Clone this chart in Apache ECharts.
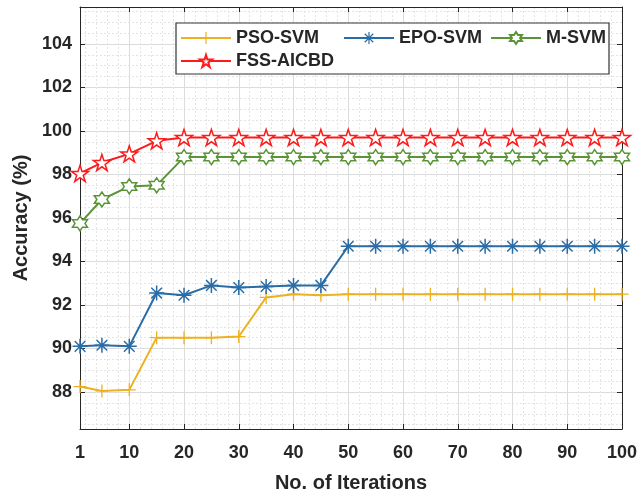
<!DOCTYPE html>
<html>
<head>
<meta charset="utf-8">
<script src="https://cdn.jsdelivr.net/npm/echarts@6/dist/echarts.min.js"></script>
<style>
  html, body { margin: 0; padding: 0; background: #fff; }
  #main { width: 638px; height: 494px; }
</style>
</head>
<body>
<div id="main"></div>
<script>
// iterations on the x axis
const iters = [1, 5, 10, 15, 20, 25, 30, 35, 40, 45, 50, 55, 60, 65, 70, 75, 80, 85, 90, 95, 100];

// accuracy (%) per method
const psoSvm = [88.25, 88.05, 88.1, 90.5, 90.5, 90.5, 90.55, 92.35, 92.5, 92.45, 92.5, 92.5, 92.5, 92.5, 92.5, 92.5, 92.5, 92.5, 92.5, 92.5, 92.5];
const epoSvm = [90.1, 90.15, 90.1, 92.55, 92.45, 92.9, 92.8, 92.85, 92.9, 92.9, 94.7, 94.7, 94.7, 94.7, 94.7, 94.7, 94.7, 94.7, 94.7, 94.7, 94.7];
const mSvm = [95.75, 96.85, 97.45, 97.5, 98.8, 98.8, 98.8, 98.8, 98.8, 98.8, 98.8, 98.8, 98.8, 98.8, 98.8, 98.8, 98.8, 98.8, 98.8, 98.8, 98.8];
const fssAicbd = [98.05, 98.55, 98.95, 99.55, 99.7, 99.7, 99.7, 99.7, 99.7, 99.7, 99.7, 99.7, 99.7, 99.7, 99.7, 99.7, 99.7, 99.7, 99.7, 99.7, 99.7];

// tick labels
const xTicks = [1, 10, 20, 30, 40, 50, 60, 70, 80, 90, 100];
const yTicks = [88, 90, 92, 94, 96, 98, 100, 102, 104];
const xMinor = [2, 4, 6, 8, 12, 14, 16, 18, 22, 24, 26, 28, 32, 34, 36, 38, 42, 44, 46, 48, 52, 54, 56, 58,
  62, 64, 66, 68, 72, 74, 76, 78, 82, 84, 86, 88, 92, 94, 96, 98];
const yMinor = [86.5, 87, 87.5, 88.5, 89, 89.5, 90.5, 91, 91.5, 92.5, 93, 93.5, 94.5, 95, 95.5, 96.5, 97, 97.5,
  98.5, 99, 99.5, 100.5, 101, 101.5, 102.5, 103, 103.5, 104.5, 105, 105.5];

const names = ['PSO-SVM', 'EPO-SVM', 'M-SVM', 'FSS-AICBD'];
const colors = ['#EDB120', '#2A6CA6', '#5A9436', '#FF1A1A'];

const plusPath = 'path://M45 0H55V45H100V55H55V100H45V55H0V45H45Z';
const asteriskPath = 'path://M45 0H55V100H45Z M0 45H100V55H0Z M18.1 11.1L88.9 81.9L81.9 88.9L11.1 18.1Z M88.9 18.1L18.1 88.9L11.1 81.9L81.9 11.1Z';
const hexPath = 'path://M50 0L64.4 25L93.3 25L78.9 50L93.3 75L64.4 75L50 100L35.6 75L6.7 75L21.1 50L6.7 25L35.6 25Z';
const pentaPath = 'path://M50 0L61.2 34.5L97.6 34.5L68.2 55.9L79.4 90.5L50 69.1L20.6 90.5L31.8 55.9L2.4 34.5L38.8 34.5Z';

const YMIN = 86.3, YMAX = 105.7;
const axisColor = '#262626';
const labelFont = { fontFamily: 'Liberation Sans', fontWeight: 'bold', color: axisColor };

const toPairs = (vals) => iters.map((x, i) => [x, vals[i]]);

const chart = echarts.init(document.getElementById('main'));

const legendPos = [
  { left: 180, top: 29 },
  { left: 343, top: 29 },
  { left: 490, top: 29 },
  { left: 180, top: 52 }
];

const option = {
  animation: false,
  backgroundColor: '#fff',
  grid: { left: 80, right: 16, top: 7, bottom: 65, outerBoundsMode: 'none', containLabel: false },
  graphic: [{
    type: 'rect',
    z: 90,
    shape: { x: 176, y: 23, width: 433, height: 51 },
    style: { fill: '#fff', stroke: '#333', lineWidth: 1.2 }
  }],
  legend: names.map((n, i) => ({
    data: [n],
    left: legendPos[i].left,
    top: legendPos[i].top,
    z: 100,
    itemWidth: 50,
    itemHeight: 15,
    itemGap: 0,
    padding: 0,
    textStyle: { fontSize: 18, ...labelFont }
  })),
  xAxis: [
    {
      type: 'value', min: 1, max: 100,
      name: 'No. of Iterations', nameLocation: 'middle', nameGap: 44,
      nameTextStyle: { fontSize: 20, ...labelFont },
      axisLine: { onZero: false, lineStyle: { color: axisColor } },
      axisTick: { inside: true, length: 5, customValues: xTicks, lineStyle: { color: axisColor } },
      axisLabel: { customValues: xTicks, fontSize: 18, margin: 15, ...labelFont },
      splitLine: { show: true, lineStyle: { color: '#dcdcdc', width: 1 } }
    },
    {
      type: 'value', min: 1, max: 100, position: 'top',
      axisLine: { onZero: false, lineStyle: { color: axisColor } },
      axisTick: { inside: true, length: 5, customValues: xTicks, lineStyle: { color: axisColor } },
      axisLabel: { show: false },
      splitLine: { show: false }
    },
    {
      type: 'value', min: 1, max: 100, position: 'bottom',
      axisLine: { show: false },
      axisTick: { show: false, customValues: xMinor },
      axisLabel: { show: false },
      splitLine: { show: true, lineStyle: { color: '#e4e4e4', type: [2, 2], width: 1 } }
    }
  ],
  yAxis: [
    {
      type: 'value', min: YMIN, max: YMAX,
      name: 'Accuracy (%)', nameLocation: 'middle', nameGap: 47,
      nameTextStyle: { fontSize: 20, ...labelFont },
      axisLine: { show: true, onZero: false, lineStyle: { color: axisColor } },
      axisTick: { show: true, inside: true, length: 5, customValues: yTicks, lineStyle: { color: axisColor } },
      axisLabel: { customValues: yTicks, fontSize: 18, margin: 8, ...labelFont },
      splitLine: { show: true, lineStyle: { color: '#dcdcdc', width: 1 } }
    },
    {
      type: 'value', min: YMIN, max: YMAX, position: 'right',
      axisLine: { show: true, onZero: false, lineStyle: { color: axisColor } },
      axisTick: { show: true, inside: true, length: 5, customValues: yTicks, lineStyle: { color: axisColor } },
      axisLabel: { show: false },
      splitLine: { show: false }
    },
    {
      type: 'value', min: YMIN, max: YMAX, position: 'left',
      axisLine: { show: false },
      axisTick: { show: false, customValues: yMinor },
      axisLabel: { show: false },
      splitLine: { show: true, lineStyle: { color: '#e4e4e4', type: [2, 2], width: 1 } }
    }
  ],
  series: [
    {
      name: names[0], type: 'line', data: toPairs(psoSvm),
      symbol: plusPath, symbolSize: 13,
      lineStyle: { color: colors[0], width: 2 },
      itemStyle: { color: colors[0] }
    },
    {
      name: names[1], type: 'line', data: toPairs(epoSvm),
      symbol: asteriskPath, symbolSize: 15,
      lineStyle: { color: colors[1], width: 2 },
      itemStyle: { color: colors[1] }
    },
    {
      name: names[2], type: 'line', data: toPairs(mSvm),
      symbol: hexPath, symbolSize: 15,
      lineStyle: { color: colors[2], width: 2 },
      itemStyle: { color: '#fff', borderColor: colors[2], borderWidth: 1.5 }
    },
    {
      name: names[3], type: 'line', data: toPairs(fssAicbd),
      symbol: pentaPath, symbolSize: 17, symbolKeepAspect: true,
      lineStyle: { color: colors[3], width: 2 },
      itemStyle: { color: '#fff', borderColor: colors[3], borderWidth: 1.5 }
    }
  ]
};

chart.setOption(option);
</script>
</body>
</html>
